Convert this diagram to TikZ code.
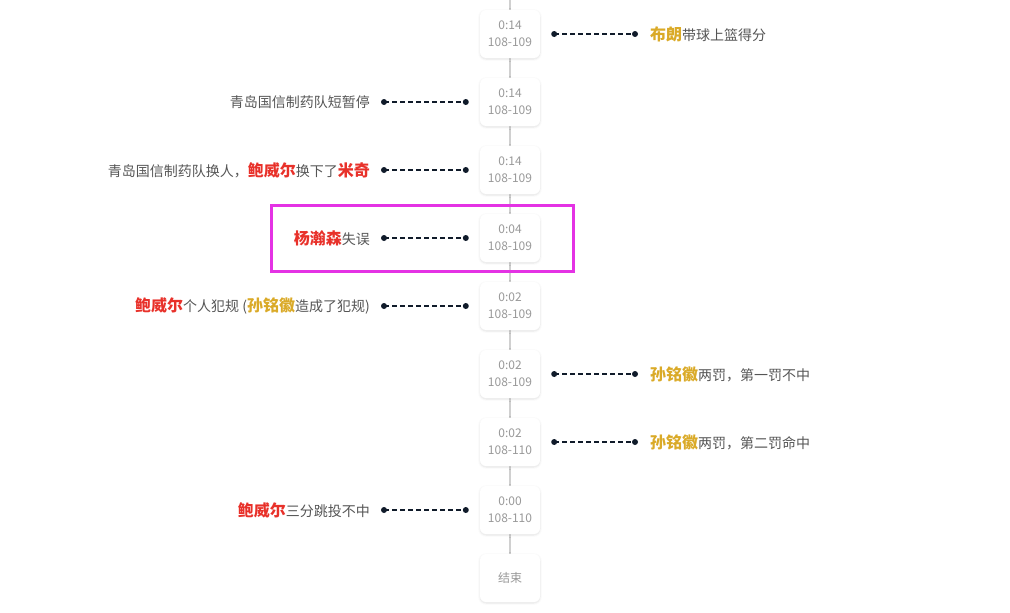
\documentclass[tikz,border=0pt]{standalone}
\usepackage{fontspec}
\setmainfont{Noto Sans CJK SC}
\usepackage{xcolor}
\usetikzlibrary{shadows.blur}
\definecolor{txt}{RGB}{85, 85, 85}
\definecolor{tim}{RGB}{153, 153, 153}
\definecolor{hom}{RGB}{232, 49, 42}
\definecolor{awy}{RGB}{218, 170, 40}
\definecolor{dot}{RGB}{16, 27, 42}
\definecolor{rail}{RGB}{208, 208, 208}
\definecolor{mark}{RGB}{228, 50, 228}
\newcommand{\hname}[1]{{\fontsize{16}{16}\selectfont\bfseries\color{hom}#1}}
\newcommand{\aname}[1]{{\fontsize{16}{16}\selectfont\bfseries\color{awy}#1}}

\tikzset{
    tbox/.style={fill=white, rounded corners=6pt, minimum width=60pt, minimum height=48pt,
        inner sep=0pt, align=center, text=tim, font=\fontsize{12}{17}\selectfont,
        blur shadow={shadow xshift=0pt, shadow yshift=-1pt, shadow blur steps=6, shadow opacity=12}},
    ltext/.style={anchor=east, inner sep=0pt, text=txt, font=\fontsize{14}{14}\selectfont},
    rtext/.style={anchor=west, inner sep=0pt, text=txt, font=\fontsize{14}{14}\selectfont},
    link/.style={draw=dot, line width=1.5pt, dash pattern=on 5pt off 3pt}
}

\begin{document}
\begin{tikzpicture}[x=1pt, y=-1pt]
            \useasboundingbox (0, 0) rectangle (1010, 613);
            \draw[color=rail, line width=2pt] (510, 0) -- (510, 560);
            % time boxes
            \node[tbox](t1) at (510, 34) {0:14\\108-109};
            \node[tbox](t2) at (510, 102) {0:14\\108-109};
            \node[tbox](t3) at (510, 170) {0:14\\108-109};
            \node[tbox](t4) at (510, 238) {0:04\\108-109};
            \node[tbox](t5) at (510, 306) {0:02\\108-109};
            \node[tbox](t6) at (510, 374) {0:02\\108-109};
            \node[tbox](t7) at (510, 442) {0:02\\108-110};
            \node[tbox](t8) at (510, 510) {0:00\\108-110};
            \node[tbox](t9) at (510, 578) {结束};
            % events
            \node[rtext](e1) at (650, 34) {\aname{布朗}带球上篮得分};
            \node[ltext](e2) at (370, 102) {青岛国信制药队短暂停};
            \node[ltext](e3) at (370, 170) {青岛国信制药队换人，\hname{鲍威尔}换下了\hname{米奇}};
            \node[ltext](e4) at (370, 238) {\hname{杨瀚森}失误};
            \node[ltext](e5) at (370, 306) {\hname{鲍威尔}个人犯规 (\aname{孙铭徽}造成了犯规)};
            \node[rtext](e6) at (650, 374) {\aname{孙铭徽}两罚，第一罚不中};
            \node[rtext](e7) at (650, 442) {\aname{孙铭徽}两罚，第二罚命中};
            \node[ltext](e8) at (370, 510) {\hname{鲍威尔}三分跳投不中};
            % connectors
            \foreach \i in {2,3,4,5,8} {
                \coordinate (a\i) at ([xshift=14pt]e\i.east |- t\i);
                \coordinate (b\i) at ([xshift=-14pt]t\i.west);
                \draw[link] (a\i) -- (b\i);
                \fill[dot] (a\i) circle (3pt) (b\i) circle (3pt);
            }
            \foreach \i in {1,6,7} {
                \coordinate (a\i) at ([xshift=14pt]t\i.east);
                \coordinate (b\i) at ([xshift=-15pt]e\i.west |- t\i);
                \draw[link] (a\i) -- (b\i);
                \fill[dot] (a\i) circle (3pt) (b\i) circle (3pt);
            }
            % highlight
            \draw[color=mark, line width=3pt] (271, 205) rectangle (573, 271);
        \end{tikzpicture}
\end{document}
